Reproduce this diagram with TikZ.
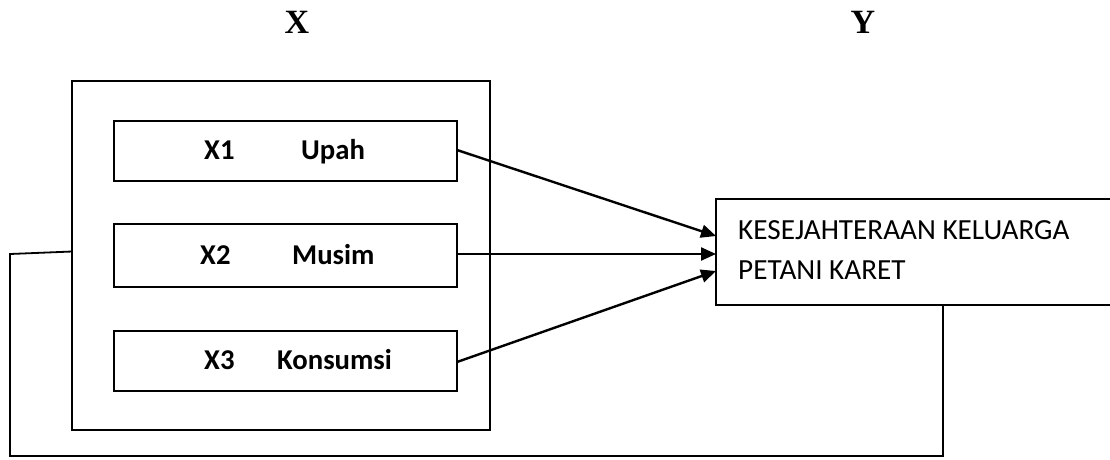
\documentclass[tikz,border=0pt]{standalone}
\usepackage{fontspec}
\setmainfont{Liberation Serif}
\newfontfamily\carlito{Carlito}
\usetikzlibrary{arrows.meta}
\begin{document}
\begin{tikzpicture}[x=1pt,y=-1pt,
  frame/.style={draw=black,line width=1.8pt,inner sep=0pt,outer sep=0pt},
  varbox/.style={frame,line width=2pt,minimum width=343pt,minimum height=60pt},
  vartext/.style={font=\carlito\bfseries\fontsize{28.7}{34}\selectfont,anchor=base west,inner sep=0pt},
  ytext/.style={font=\carlito\fontsize{29.2}{35}\selectfont,anchor=base west,inner sep=0pt},
  head/.style={font=\bfseries\fontsize{34}{40}\selectfont,inner sep=0pt},
  link/.style={line width=2.4pt,-{Triangle[length=15pt,width=13pt]}},
  fb/.style={line width=1.8pt}]
\useasboundingbox (0,0) rectangle (1110,459);
\node[head] (lx) at (297,22) {X};
\node[head] (ly) at (863,22) {Y};
\node[frame,minimum width=418pt,minimum height=349pt] (outer) at (281,255.5) {};
\node[varbox] (b1) at (285.5,151) {};
\node[varbox,minimum height=63pt] (b2) at (285.5,255.5) {};
\node[varbox] (b3) at (285.5,361) {};
\node[vartext] (t1a) at (204,159) {X1};
\node[vartext] (t1b) at (301,159) {Upah};
\node[vartext] (t2a) at (200,264) {X2};
\node[vartext] (t2b) at (292,264) {Musim};
\node[vartext] (t3a) at (204,369) {X3};
\node[vartext] (t3b) at (277,369) {Konsumsi};
\node[frame,minimum width=400pt,minimum height=106pt] (yb) at (916,252) {};
\node[ytext] (y1) at (738,239) {KESEJAHTERAAN KELUARGA};
\node[ytext] (y2) at (738,279) {PETANI KARET};
\coordinate (p1) at (716,236);
\coordinate (p2) at (716,254);
\coordinate (p3) at (716,271);
\draw[link] (b1.east |- 0,150) -- (p1);
\draw[link] (b2.east |- 0,254) -- (p2);
\draw[link] (b3.east |- 0,362) -- (p3);
\coordinate (f1) at (943,456);
\coordinate (f2) at (10,456);
\coordinate (f3) at (10,254);
\draw[fb] (yb.south -| f1) -- (f1) -- (f2) -- (f3) -- (outer.west |- 0,251.5);
\end{tikzpicture}
\end{document}
